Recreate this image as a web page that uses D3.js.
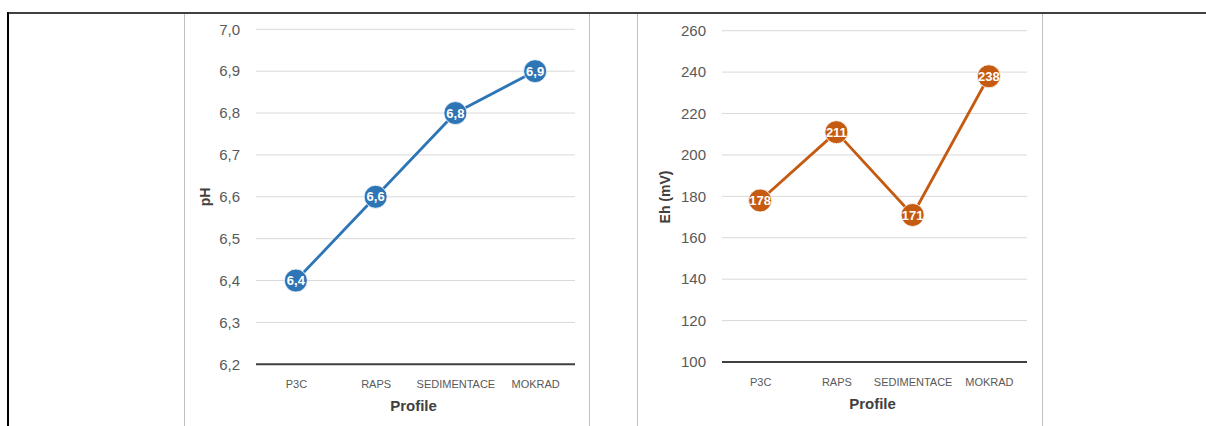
<!DOCTYPE html>
<html><head><meta charset="utf-8">
<script src="https://cdn.jsdelivr.net/npm/d3@7"></script>
<style>html,body{margin:0;padding:0;background:#fff;}svg{display:block;}</style>
</head><body>
<svg id="c" width="1206" height="426"></svg>
<script>
const categories = ["P3C", "RAPS", "SEDIMENTACE", "MOKRAD"];
const phValues = [6.4, 6.6, 6.8, 6.9];
const ehValues = [178, 211, 171, 238];
const phTicks = [6.2, 6.3, 6.4, 6.5, 6.6, 6.7, 6.8, 6.9, 7.0];
const ehTicks = [100, 120, 140, 160, 180, 200, 220, 240, 260];

const svg = d3.select("#c");
const FONT = "'Liberation Sans', Arial, sans-serif";

// frame
svg.append("line").attr("x1", 7).attr("x2", 1206).attr("y1", 13).attr("y2", 13)
  .attr("stroke", "#000").attr("stroke-width", 1.6);
svg.append("line").attr("x1", 8).attr("x2", 8).attr("y1", 12.2).attr("y2", 426)
  .attr("stroke", "#000").attr("stroke-width", 2);
[184.5, 589.5, 637.5, 1042.5].forEach(x => {
  svg.append("line").attr("x1", x).attr("x2", x).attr("y1", 14).attr("y2", 426)
    .attr("stroke", "#bfbfbf").attr("stroke-width", 1);
});

function drawChart(cfg) {
  const g = svg.append("g");
  const x = d3.scalePoint().domain(categories).range([cfg.x0, cfg.x1]).padding(0.5);
  const y = d3.scaleLinear().domain(cfg.domain).range([cfg.yBottom, cfg.yTop]);

  // gridlines
  g.selectAll(".grid").data(cfg.ticks.slice(1)).enter().append("line")
    .attr("x1", cfg.x0).attr("x2", cfg.x1)
    .attr("y1", d => y(d)).attr("y2", d => y(d))
    .attr("stroke", "#d9d9d9").attr("stroke-width", 1);

  // y axis labels
  const yAxis = d3.axisLeft(y).tickValues(cfg.ticks).tickSize(0).tickPadding(0)
    .tickFormat(cfg.fmt);
  const ya = g.append("g").attr("transform", `translate(${cfg.labelRight},0)`).call(yAxis);
  ya.select(".domain").remove();
  ya.selectAll("text").attr("font-family", FONT).attr("font-size", 15)
    .attr("fill", "#595959");

  // baseline
  g.append("line").attr("x1", cfg.x0).attr("x2", cfg.x1)
    .attr("y1", y(cfg.domain[0])).attr("y2", y(cfg.domain[0]))
    .attr("stroke", "#404040").attr("stroke-width", 2);

  // x axis labels
  const xAxis = d3.axisBottom(x).tickSize(0).tickPadding(0);
  const xa = g.append("g").attr("transform", `translate(0,${cfg.catY})`).call(xAxis);
  xa.select(".domain").remove();
  xa.selectAll("text").attr("font-family", FONT).attr("font-size", 11)
    .attr("fill", "#595959").attr("dy", "0.35em");

  // axis titles
  g.append("text").attr("x", (cfg.x0 + cfg.x1) / 2 - 2).attr("y", cfg.titleY)
    .attr("text-anchor", "middle").attr("dy", "0.35em")
    .attr("font-family", FONT).attr("font-size", 15).attr("font-weight", "bold")
    .attr("fill", "#404040").text("Profile");
  g.append("text").attr("transform", `translate(${cfg.yTitleX},${cfg.yTitleY}) rotate(-90)`)
    .attr("text-anchor", "middle").attr("dy", "0.35em")
    .attr("font-family", FONT).attr("font-size", 14).attr("font-weight", "bold")
    .attr("fill", "#404040").text(cfg.yTitle);

  // line
  const line = d3.line().x((d, i) => x(categories[i])).y(d => y(d));
  g.append("path").datum(cfg.values).attr("d", line).attr("fill", "none")
    .attr("stroke", cfg.color).attr("stroke-width", 2.8).attr("stroke-linejoin", "round");

  // markers
  g.selectAll(".m").data(cfg.values).enter().append("circle")
    .attr("cx", (d, i) => x(categories[i])).attr("cy", d => y(d)).attr("r", 11.5)
    .attr("fill", cfg.color).attr("stroke", "#ffffff").attr("stroke-width", 0.8);
  g.selectAll(".l").data(cfg.values).enter().append("text")
    .attr("x", (d, i) => x(categories[i])).attr("y", d => y(d)).attr("dy", "0.36em")
    .attr("text-anchor", "middle").attr("font-family", FONT).attr("font-size", 13)
    .attr("font-weight", "bold").attr("fill", "#fff").text(cfg.labelFmt);
}

drawChart({
  x0: 256, x1: 575, yBottom: 364.3, yTop: 29.3, domain: [6.2, 7.0],
  ticks: phTicks, fmt: d => d3.format(".1f")(d).replace(".", ","),
  labelRight: 240, catY: 384, titleY: 406, yTitleX: 205, yTitleY: 197,
  yTitle: "pH", values: phValues, color: "#2e75b6",
  labelFmt: d => d3.format(".1f")(d).replace(".", ",")
});
drawChart({
  x0: 722, x1: 1027, yBottom: 362, yTop: 30.7, domain: [100, 260],
  ticks: ehTicks, fmt: d => String(d),
  labelRight: 706, catY: 382.5, titleY: 404, yTitleX: 665, yTitleY: 197,
  yTitle: "Eh (mV)", values: ehValues, color: "#c55a11",
  labelFmt: d => String(d)
});
</script>
</body></html>
